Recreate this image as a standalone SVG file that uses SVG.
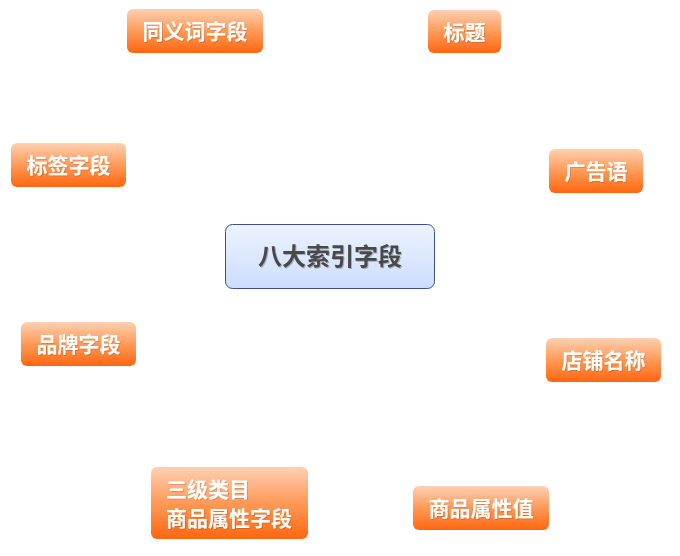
<svg xmlns="http://www.w3.org/2000/svg" width="680" height="556" viewBox="0 0 680 556">
<defs>
<linearGradient id="og" x1="0" y1="0" x2="0" y2="1">
<stop offset="0" stop-color="#FFD0B2"/>
<stop offset="0.5" stop-color="#FF9A58"/>
<stop offset="1" stop-color="#FF660F"/>
</linearGradient>
<linearGradient id="bg" x1="0" y1="0" x2="0" y2="1">
<stop offset="0" stop-color="#EDF3FE"/>
<stop offset="1" stop-color="#CCDDFC"/>
</linearGradient>
<filter id="ts" x="-10%" y="-10%" width="120%" height="130%">
<feDropShadow dx="1" dy="1" stdDeviation="0.4" flood-color="#000" flood-opacity="0.15"/>
</filter>
<filter id="cs" x="-10%" y="-10%" width="120%" height="130%">
<feDropShadow dx="1" dy="1" stdDeviation="0.4" flood-color="#000" flood-opacity="0.25"/>
</filter>
</defs>
<style>
.o{fill:url(#og);}
.t{font-family:"Noto Sans CJK SC","Noto Sans CJK JP",sans-serif;font-weight:bold;font-size:21px;fill:#ffffff;text-anchor:middle;filter:url(#ts);}
.tl{text-anchor:start;}
.c{fill:url(#bg);stroke:#3B4F8C;stroke-width:1;}
.ct{font-family:"Noto Sans CJK SC","Noto Sans CJK JP",sans-serif;font-weight:bold;font-size:24px;fill:#484848;text-anchor:middle;filter:url(#cs);}
</style>
<rect width="680" height="556" fill="#ffffff"/>
<g id="connectors"></g>
<g id="center">
<rect class="c" x="225.5" y="224.5" width="209" height="64" rx="7"/>
<text class="ct" x="330" y="265">八大索引字段</text>
</g>
<g id="n-synonym">
<rect class="o" x="127" y="9" width="136" height="44" rx="6"/>
<text class="t" x="195" y="39">同义词字段</text>
</g>
<g id="n-title">
<rect class="o" x="428" y="10" width="73" height="43" rx="6"/>
<text class="t" x="464.5" y="40">标题</text>
</g>
<g id="n-tag">
<rect class="o" x="11" y="143" width="115" height="44" rx="6"/>
<text class="t" x="68.5" y="173">标签字段</text>
</g>
<g id="n-ad">
<rect class="o" x="549" y="149" width="94" height="44" rx="6"/>
<text class="t" x="596" y="179">广告语</text>
</g>
<g id="n-brand">
<rect class="o" x="21" y="322" width="115" height="44" rx="6"/>
<text class="t" x="78.5" y="352">品牌字段</text>
</g>
<g id="n-shop">
<rect class="o" x="546" y="338" width="115" height="44" rx="6"/>
<text class="t" x="603.5" y="368">店铺名称</text>
</g>
<g id="n-category">
<rect class="o" x="151" y="467" width="157" height="72" rx="6"/>
<text class="t tl" x="166" y="497">三级类目</text>
<text class="t tl" x="166" y="526">商品属性字段</text>
</g>
<g id="n-attrval">
<rect class="o" x="413" y="486" width="136" height="44" rx="6"/>
<text class="t" x="481" y="516">商品属性值</text>
</g>
</svg>
